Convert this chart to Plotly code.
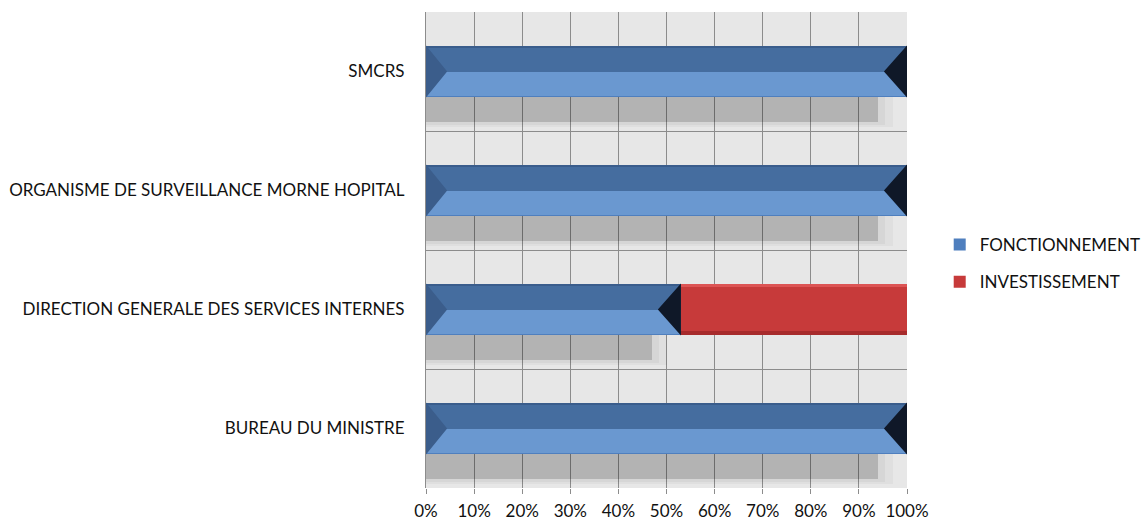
import plotly.graph_objects as go

# ---- data ----
categories = ["BUREAU DU MINISTRE",
              "DIRECTION GENERALE DES SERVICES INTERNES",
              "ORGANISME DE SURVEILLANCE MORNE HOPITAL",
              "SMCRS"]
fonctionnement = [100, 53, 100, 100]
investissement = [0, 47, 0, 0]
x_ticks = [0, 10, 20, 30, 40, 50, 60, 70, 80, 90, 100]
x_tick_labels = [f"{v}%" for v in x_ticks]

# ---- style ----
FONT = "Lato"
FS = 17
HALF = 0.218          # half bar thickness (category units)
TRI_L = 4.4           # left bevel triangle depth (% units)
TRI_R = 4.8           # right bevel triangle depth (% units)
pos = list(range(len(categories)))

fig = go.Figure()

# soft shadow under the FONCTIONNEMENT bars (layered for a blur effect)
for shrink, w, op in [(3.0, 0.245, 0.03), (4.5, 0.228, 0.04), (6.0, 0.205, 0.16)]:
    fig.add_trace(go.Bar(
        y=pos, x=[max(v - shrink, 0) for v in fonctionnement], base=0,
        orientation="h", offset=-HALF - w, width=w,
        marker=dict(color=f"rgba(0,0,0,{op})", line=dict(width=0)),
        showlegend=False, hoverinfo="skip"))

# FONCTIONNEMENT body
fig.add_trace(go.Bar(
    y=pos, x=fonctionnement, base=0, orientation="h",
    offset=-HALF, width=2 * HALF, name="FONCTIONNEMENT",
    marker=dict(color="#4f7fbe", line=dict(width=0)),
    legendgroup="f", showlegend=True))
fig.add_trace(go.Bar(
    y=pos, x=fonctionnement, base=0, orientation="h",
    offset=-HALF + 0.008, width=2 * HALF - 0.016,
    marker=dict(color="#6a98d0", line=dict(width=0)),
    showlegend=False, hoverinfo="skip"))
# darker upper half
fig.add_trace(go.Bar(
    y=pos, x=fonctionnement, base=0, orientation="h",
    offset=0, width=HALF,
    marker=dict(color="#456d9f", line=dict(width=0)),
    showlegend=False, hoverinfo="skip"))
# thin top edge
fig.add_trace(go.Bar(
    y=pos, x=fonctionnement, base=0, orientation="h",
    offset=HALF - 0.018, width=0.018,
    marker=dict(color="#3a5d8c", line=dict(width=0)),
    showlegend=False, hoverinfo="skip"))

# INVESTISSEMENT: red bar stacked after fonctionnement
fig.add_trace(go.Bar(
    y=pos, x=investissement, base=fonctionnement, orientation="h",
    offset=-HALF, width=2 * HALF, name="INVESTISSEMENT",
    marker=dict(color="#c73a3a", line=dict(width=0)),
    legendgroup="i", showlegend=True))
fig.add_trace(go.Bar(
    y=pos, x=investissement, base=fonctionnement, orientation="h",
    offset=HALF - 0.03, width=0.03,
    marker=dict(color="#dc5454", line=dict(width=0)),
    showlegend=False, hoverinfo="skip"))
fig.add_trace(go.Bar(
    y=pos, x=investissement, base=fonctionnement, orientation="h",
    offset=-HALF, width=0.035,
    marker=dict(color="#a72b2c", line=dict(width=0)),
    showlegend=False, hoverinfo="skip"))

# bevel triangles at the ends of the FONCTIONNEMENT bars
lx, ly, rx, ry = [], [], [], []
for p, v in zip(pos, fonctionnement):
    if v <= 0:
        continue
    lx += [0, TRI_L, 0, 0, None]
    ly += [p + HALF, p, p - HALF, p + HALF, None]
    rx += [v, v - TRI_R, v, v, None]
    ry += [p + HALF, p, p - HALF, p + HALF, None]
fig.add_trace(go.Scatter(x=lx, y=ly, mode="lines", fill="toself",
                         fillcolor="#3b5d8b", line=dict(width=0),
                         showlegend=False, hoverinfo="skip"))
fig.add_trace(go.Scatter(x=rx, y=ry, mode="lines", fill="toself",
                         fillcolor="#0f1828", line=dict(width=0),
                         showlegend=False, hoverinfo="skip"))

fig.update_layout(
    width=1145, height=521,
    barmode="overlay", bargap=0,
    paper_bgcolor="white", plot_bgcolor="#e7e7e7",
    margin=dict(l=426, r=238, t=12, b=33, autoexpand=False),
    font=dict(family=FONT, size=FS, color="#111111"),
    legend=dict(x=1.068, y=0.4715, xanchor="left", yanchor="middle",
                font=dict(family=FONT, size=FS, color="#111111"),
                tracegroupgap=12, traceorder="grouped",
                itemwidth=30, bgcolor="rgba(0,0,0,0)"),
    xaxis=dict(range=[0, 100], tickvals=x_ticks, ticktext=x_tick_labels,
               showgrid=True, gridcolor="#8c8c8c", gridwidth=1,
               zeroline=False, ticks="outside", ticklen=5, tickcolor="#8c8c8c",
               ticklabelstandoff=3,
               showline=False, fixedrange=True),
    yaxis=dict(range=[-0.5, 3.5], tickvals=pos, ticktext=categories,
               showgrid=False, zeroline=False, ticks="", ticklabelstandoff=17,
               showline=True, linecolor="#8c8c8c",
               minor=dict(tickvals=[-0.5, 0.5, 1.5, 2.5, 3.5], showgrid=True,
                          gridcolor="#8c8c8c", gridwidth=1, ticks=""),
               fixedrange=True),
)

fig.write_html("out.html", config={"displayModeBar": False},
               post_script="document.body.style.margin='0';")
